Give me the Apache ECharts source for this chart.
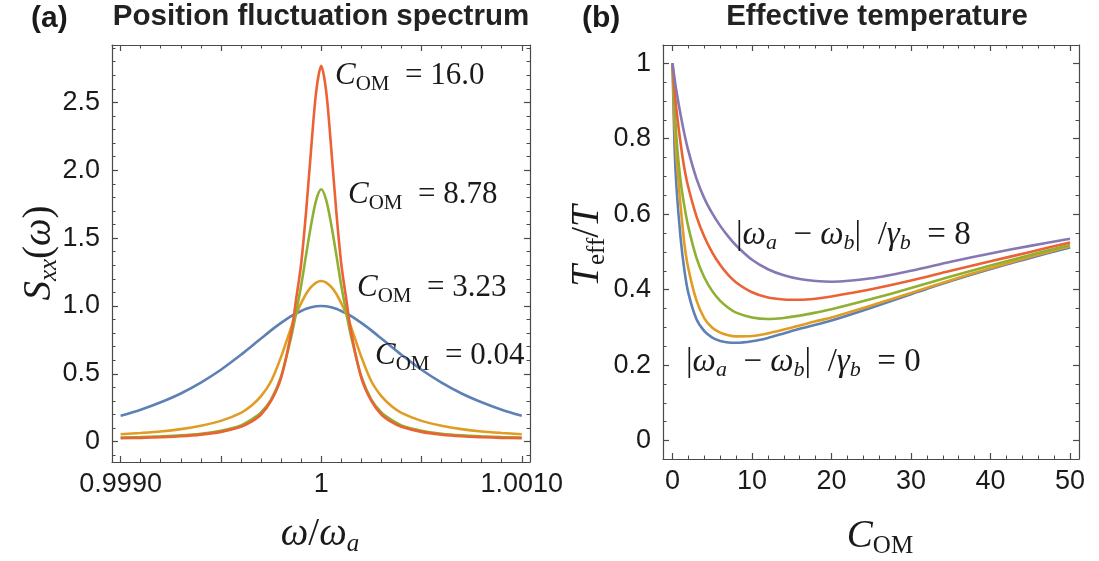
<!DOCTYPE html>
<html><head><meta charset="utf-8">
<script src="https://cdn.jsdelivr.net/npm/echarts@6/dist/echarts.min.js"></script>
<style>html,body{margin:0;padding:0;background:#fff}#c{width:1099px;height:561px}</style>
</head><body><div id="c"></div>
<script>
// ---------- Panel (a): position fluctuation spectrum ----------
const omega = [0.999, 0.9991, 0.9992, 0.9993, 0.9994, 0.9995, 0.9996, 0.99965, 0.9997, 0.99975, 0.9998, 0.99985, 0.999875, 0.9999, 0.999925, 0.99995, 0.999975, 1,
  1.000025, 1.00005, 1.000075, 1.0001, 1.000125, 1.00015, 1.0002, 1.00025, 1.0003, 1.00035, 1.0004, 1.0005, 1.0006, 1.0007, 1.0008, 1.0009, 1.001];
const sxxC004 = [0.19, 0.235, 0.29, 0.355, 0.435, 0.53, 0.64, 0.7, 0.76, 0.82, 0.875, 0.925, 0.945, 0.963, 0.979, 0.991, 0.998, 1.0,
  0.998, 0.991, 0.979, 0.963, 0.945, 0.925, 0.875, 0.82, 0.76, 0.7, 0.64, 0.53, 0.435, 0.355, 0.29, 0.235, 0.19];
const sxxC323 = [0.055, 0.064, 0.075, 0.092, 0.117, 0.153, 0.212, 0.262, 0.335, 0.445, 0.625, 0.84, 0.94, 1.02, 1.09, 1.14, 1.172, 1.184,
  1.172, 1.14, 1.09, 1.02, 0.94, 0.84, 0.625, 0.445, 0.335, 0.262, 0.212, 0.153, 0.117, 0.092, 0.075, 0.064, 0.055];
const sxxC878 = [0.031, 0.034, 0.039, 0.046, 0.058, 0.08, 0.12, 0.16, 0.215, 0.31, 0.48, 0.77, 0.95, 1.15, 1.38, 1.6, 1.78, 1.86,
  1.78, 1.6, 1.38, 1.15, 0.95, 0.77, 0.48, 0.31, 0.215, 0.16, 0.12, 0.08, 0.058, 0.046, 0.039, 0.034, 0.031];
const sxxC160 = [0.025, 0.028, 0.033, 0.04, 0.052, 0.072, 0.11, 0.145, 0.2, 0.3, 0.47, 0.8, 1.05, 1.31, 1.7, 2.16, 2.58, 2.77,
  2.58, 2.16, 1.7, 1.31, 1.05, 0.8, 0.47, 0.3, 0.2, 0.145, 0.11, 0.072, 0.052, 0.04, 0.033, 0.028, 0.025];

// ---------- Panel (b): effective temperature ----------
const cOM = [0, 0.25, 0.5, 1, 1.5, 2, 3, 4, 5, 6, 7, 8, 10, 12, 14, 16, 18, 20, 25, 30, 35, 40, 45, 50];
const teffD0 = [1, 0.78, 0.67, 0.54, 0.45, 0.39, 0.322, 0.29, 0.273, 0.264, 0.26, 0.259, 0.263, 0.272, 0.284, 0.296, 0.307, 0.318, 0.352, 0.388, 0.423, 0.455, 0.484, 0.512];
const teffD2 = [1, 0.84, 0.75, 0.625, 0.52, 0.455, 0.372, 0.324, 0.299, 0.286, 0.279, 0.276, 0.277, 0.284, 0.294, 0.305, 0.316, 0.326, 0.358, 0.391, 0.425, 0.457, 0.487, 0.515];
const teffD4 = [1, 0.89, 0.8, 0.69, 0.62, 0.565, 0.485, 0.432, 0.396, 0.37, 0.352, 0.339, 0.326, 0.322, 0.325, 0.331, 0.339, 0.348, 0.375, 0.404, 0.435, 0.464, 0.492, 0.518];
const teffD6 = [1, 0.93, 0.875, 0.79, 0.72, 0.67, 0.595, 0.54, 0.498, 0.465, 0.439, 0.419, 0.393, 0.379, 0.374, 0.373, 0.376, 0.382, 0.401, 0.424, 0.45, 0.475, 0.5, 0.525];
const teffD8 = [1, 0.96, 0.925, 0.865, 0.812, 0.767, 0.695, 0.642, 0.602, 0.569, 0.541, 0.517, 0.479, 0.454, 0.438, 0.428, 0.423, 0.421, 0.43, 0.45, 0.474, 0.496, 0.516, 0.535];

// ---------- ticks ----------
const aXMajor = [0.999, 0.9995, 1, 1.0005, 1.001];
const aXMinor = [0.9991, 0.9992, 0.9993, 0.9994, 0.9996, 0.9997, 0.9998, 0.9999, 1.0001, 1.0002, 1.0003, 1.0004, 1.0006, 1.0007, 1.0008, 1.0009];
const aXLabelVals = [0.999, 1, 1.001];
const aXLabels = ['0.9990', '1', '1.0010'];
const aYMajor = [0, 0.5, 1, 1.5, 2, 2.5];
const aYMinor = [-0.1, 0.1, 0.2, 0.3, 0.4, 0.6, 0.7, 0.8, 0.9, 1.1, 1.2, 1.3, 1.4, 1.6, 1.7, 1.8, 1.9, 2.1, 2.2, 2.3, 2.4, 2.6, 2.7, 2.8, 2.9];
const aYLabels = ['0', '0.5', '1.0', '1.5', '2.0', '2.5'];
const bXMajor = [0, 10, 20, 30, 40, 50];
const bXMinor = [2, 4, 6, 8, 12, 14, 16, 18, 22, 24, 26, 28, 32, 34, 36, 38, 42, 44, 46, 48];
const bXLabels = ['0', '10', '20', '30', '40', '50'];
const bYMajor = [0, 0.2, 0.4, 0.6, 0.8, 1];
const bYMinor = [0.05, 0.1, 0.15, 0.25, 0.3, 0.35, 0.45, 0.5, 0.55, 0.65, 0.7, 0.75, 0.85, 0.9, 0.95];
const bYLabels = ['0', '0.2', '0.4', '0.6', '0.8', '1'];

const colors = ['#5E81B5', '#E19C24', '#8FB032', '#EB6235', '#8778B3'];
const FRAME = '#4a4a4a';
const TXT = '#1a1a1a';
const SANS = '"Liberation Sans", Arial, Helvetica, sans-serif';
const SERIF = '"Liberation Serif", "Times New Roman", serif';

function fmtFrom(vals, texts) {
  return function (v) {
    for (let i = 0; i < vals.length; i++) if (Math.abs(v - vals[i]) < 1e-9) return texts[i];
    return '';
  };
}
function sideAxes(gridIndex, min, max, major, minor, labelVals, labelTexts, pos, opp, margin) {
  const base = { gridIndex, type: 'value', min, max, splitLine: { show: false }, scale: true };
  const lab = { show: true, customValues: labelVals, formatter: fmtFrom(labelVals, labelTexts), margin, fontSize: 27, fontFamily: SANS, color: TXT };
  return [
    Object.assign({}, base, { position: pos, axisLine: { show: true, onZero: false, lineStyle: { color: FRAME, width: 1.2 } },
      axisTick: { show: true, inside: true, length: 6, customValues: major, lineStyle: { color: FRAME, width: 1.2 } }, axisLabel: lab }),
    Object.assign({}, base, { position: pos, axisLine: { show: false, onZero: false },
      axisTick: { show: true, inside: true, length: 3.5, customValues: minor, lineStyle: { color: FRAME, width: 1 } }, axisLabel: { show: false } }),
    Object.assign({}, base, { position: opp, axisLine: { show: true, onZero: false, lineStyle: { color: FRAME, width: 1.2 } },
      axisTick: { show: true, inside: true, length: 6, customValues: major, lineStyle: { color: FRAME, width: 1.2 } }, axisLabel: { show: false } }),
    Object.assign({}, base, { position: opp, axisLine: { show: false, onZero: false },
      axisTick: { show: true, inside: true, length: 3.5, customValues: minor, lineStyle: { color: FRAME, width: 1 } }, axisLabel: { show: false } })
  ];
}

const xAxes = [].concat(
  sideAxes(0, 0.998957, 1.001041, aXMajor, aXMinor, aXLabelVals, aXLabels, 'bottom', 'top', 9),
  sideAxes(1, -1.2, 51.13, bXMajor, bXMinor, bXMajor, bXLabels, 'bottom', 'top', 9)
);
const yAxes = [].concat(
  sideAxes(0, -0.15, 2.923, aYMajor, aYMinor, aYMajor, aYLabels, 'left', 'right', 12),
  sideAxes(1, -0.049, 1.0485, bYMajor, bYMinor, bYMajor, bYLabels, 'left', 'right', 12)
);

function zip(xs, ys) { return xs.map((x, i) => [x, ys[i]]); }
function line(xIdx, xs, ys, color) {
  return { type: 'line', xAxisIndex: xIdx, yAxisIndex: xIdx, data: zip(xs, ys), showSymbol: false, symbol: 'none',
    smooth: 0.3, lineStyle: { color, width: 2.6 }, itemStyle: { color }, z: 3, silent: true, clip: true };
}
const series = [
  line(0, omega, sxxC004, colors[0]),
  line(0, omega, sxxC323, colors[1]),
  line(0, omega, sxxC878, colors[2]),
  line(0, omega, sxxC160, colors[3]),
  line(4, cOM, teffD0, colors[0]),
  line(4, cOM, teffD2, colors[1]),
  line(4, cOM, teffD4, colors[2]),
  line(4, cOM, teffD6, colors[3]),
  line(4, cOM, teffD8, colors[4])
];

const rich = {
  i: { fontFamily: SERIF, fontStyle: 'italic', fontSize: 31, lineHeight: 38, fill: TXT, color: TXT },
  r: { fontFamily: SERIF, fontSize: 31, lineHeight: 38, fill: TXT, color: TXT },
  i2: { fontFamily: SERIF, fontStyle: 'italic', fontSize: 33, lineHeight: 38, fill: TXT, color: TXT },
  r2: { fontFamily: SERIF, fontSize: 33, lineHeight: 38, fill: TXT, color: TXT },
  s: { fontFamily: SERIF, fontStyle: 'italic', fontSize: 22, lineHeight: 22, verticalAlign: 'bottom', fill: TXT, color: TXT },
  sr: { fontFamily: SERIF, fontSize: 21, lineHeight: 22, verticalAlign: 'bottom', fill: TXT, color: TXT },
  big: { fontFamily: SERIF, fontStyle: 'italic', fontSize: 39, lineHeight: 44, fill: TXT, color: TXT },
  bigr: { fontFamily: SERIF, fontSize: 39, lineHeight: 44, fill: TXT, color: TXT },
  bs: { fontFamily: SERIF, fontStyle: 'italic', fontSize: 25, lineHeight: 25, verticalAlign: 'bottom', fill: TXT, color: TXT },
  bsr: { fontFamily: SERIF, fontSize: 25, lineHeight: 25, verticalAlign: 'bottom', fill: TXT, color: TXT }
};
function rt(text, x, y, align, rotation) {
  return { type: 'text', x, y, rotation: rotation || 0, z: 10, silent: true,
    style: { text, rich, align: align || 'left', verticalAlign: 'middle', fill: TXT } };
}
const graphics = [
  { type: 'text', x: 31, y: 19, style: { text: '(a)', font: 'bold 30px ' + SANS, fill: TXT, align: 'left', verticalAlign: 'middle' } },
  { type: 'text', x: 321, y: 17, style: { text: 'Position fluctuation spectrum', font: 'bold 29.5px ' + SANS, fill: '#222', align: 'center', verticalAlign: 'middle' } },
  { type: 'text', x: 582, y: 19, style: { text: '(b)', font: 'bold 30px ' + SANS, fill: TXT, align: 'left', verticalAlign: 'middle' } },
  { type: 'text', x: 877, y: 17, style: { text: 'Effective temperature', font: 'bold 29.5px ' + SANS, fill: '#222', align: 'center', verticalAlign: 'middle' } },
  rt('{i|C}{sr|OM}{r|  = 16.0}', 335, 76, 'left'),
  rt('{i|C}{sr|OM}{r|  = 8.78}', 348, 195, 'left'),
  rt('{i|C}{sr|OM}{r|  = 3.23}', 357, 288, 'left'),
  rt('{i|C}{sr|OM}{r|  = 0.04}', 375, 356, 'left'),
  rt('{r2||}{i2|ω}{s|a}{r2|  − }{i2|ω}{s|b}{r2||}{r2|  /}{i2|γ}{s|b}{r2|  = 8}', 736, 235, 'left'),
  rt('{r2||}{i2|ω}{s|a}{r2|  − }{i2|ω}{s|b}{r2||}{r2|  /}{i2|γ}{s|b}{r2|  = 0}', 686, 362, 'left'),
  rt('{big|ω}{bigr|/}{big|ω}{bs|a}', 320, 535, 'center'),
  rt('{big|C}{bsr|OM}', 880, 537, 'center'),
  rt('{big|S}{bs|xx}{bigr|(}{big|ω}{bigr|)}', 40, 253, 'center', Math.PI / 2),
  rt('{big|T}{bsr|eff}{bigr|/}{big|T}', 588, 246, 'center', Math.PI / 2)
];

const chart = echarts.init(document.getElementById('c'), null, { renderer: 'canvas' });
chart.setOption({
  animation: false,
  backgroundColor: '#fff',
  grid: [
    { left: 112, top: 45, width: 418, height: 417, containLabel: false },
    { left: 663, top: 45, width: 416, height: 414, containLabel: false }
  ],
  xAxis: xAxes,
  yAxis: yAxes,
  series,
  graphic: graphics
});
</script>
</body></html>
